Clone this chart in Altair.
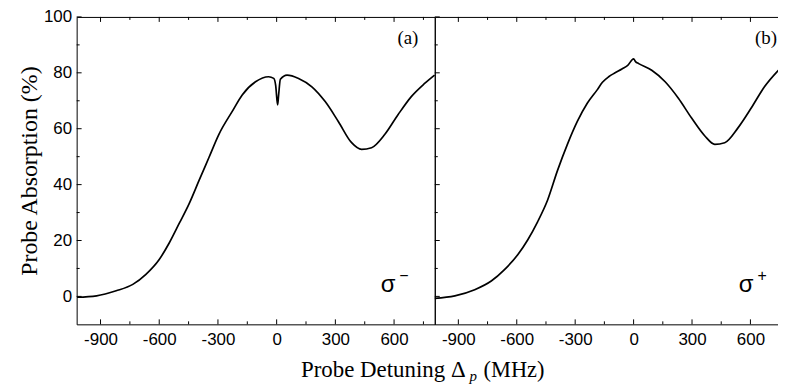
import altair as alt
import pandas as pd

# ---- data ----
xa = [-1020, -920, -820, -735, -668, -600, -549, -498, -447, -397, -346, -295,
      -227, -176, -108, -41, -15, -5, 5, 10, 19, 53, 112, 180, 248, 315, 383,
      434, 485, 553, 620, 688, 756, 807]
ya = [-0.3, 0.2, 2.0, 4.3, 7.9, 13.2, 19.1, 26.1, 33.2, 41.4, 49.7, 58.0,
      66.2, 72.1, 76.8, 78.6, 78.0, 75.5, 68.5, 72.0, 77.7, 79.2, 78.0, 75.0,
      69.7, 62.6, 55.0, 52.6, 53.2, 58.0, 65.0, 71.5, 76.2, 79.2]

xb = [-1021, -918, -816, -731, -663, -595, -544, -493, -442, -391, -340, -289,
      -238, -187, -160, -128, -95, -60, -30, 0, 10, 26, 93, 162, 230, 297,
      366, 417, 468, 536, 604, 672, 760]
yb = [-0.7, 0.2, 2.4, 5.5, 9.6, 14.9, 20.2, 26.7, 34.4, 45.0, 54.4, 62.6,
      69.1, 73.9, 76.6, 78.6, 80.0, 81.4, 82.7, 85.0, 84.0, 83.3, 80.9, 76.8,
      70.9, 63.9, 57.4, 54.4, 55.0, 60.3, 67.4, 75.0, 82.1]

x_major = [-900, -600, -300, 0, 300, 600]
x_minor = [-750, -450, -150, 150, 450, 750]
y_major = [0, 20, 40, 60, 80, 100]
y_minor = [10, 30, 50, 70, 90]

panel_labels = ["(a)", "(b)"]
pol_labels = ["σ", "σ"]
pol_signs = ["\u2212", "+"]
y_title = "Probe Absorption (%)"
x_title_parts = ["Probe Detuning \u0394", "p", "(MHz)"]

H = 309
SERIF = "Liberation Serif"
SANS = "Liberation Sans"
HYPHEN = "replace(datum.label, '\u2212', '-')"


def txt(s, x, y, font, size, align="left", baseline="alphabetic", style="normal"):
    return alt.Chart(pd.DataFrame({"t": [s]})).mark_text(
        font=font, fontSize=size, align=align, baseline=baseline,
        fontStyle=style, color="black"
    ).encode(x=alt.value(x), y=alt.value(y), text="t:N")


def panel(xs, ys, dom, width, idx, show_y):
    xscale = alt.Scale(domain=dom, nice=False, zero=False)
    yscale = alt.Scale(domain=[-10, 100], nice=False, zero=False)
    xaxis = alt.Axis(values=x_major, ticks=False, domain=False, grid=False,
                     labelFont=SANS, labelFontSize=17, labelPadding=7,
                     labelColor="black", labelFlush=False, title=None,
                     labelExpr=HYPHEN)
    if show_y:
        yaxis = alt.Axis(values=y_major, ticks=False, domain=False, grid=False,
                         labelFont=SANS, labelFontSize=17, labelPadding=5,
                         labelColor="black", title=y_title, titleFont=SERIF,
                         titleFontSize=24, titleFontWeight="normal",
                         titleColor="black", titlePadding=2)
    else:
        yaxis = None
    df = pd.DataFrame({"x": xs, "y": ys})
    line = alt.Chart(df).mark_line(
        color="black", strokeWidth=1.7, interpolate="monotone"
    ).encode(x=alt.X("x:Q", scale=xscale, axis=xaxis),
             y=alt.Y("y:Q", scale=yscale, axis=yaxis))

    layers = [line]
    for vals, ln in ((x_major, 5), (x_minor, 3)):
        d = pd.DataFrame({"v": vals})
        layers.append(alt.Chart(d).mark_rule(color="black", strokeWidth=1).encode(
            x=alt.X("v:Q", scale=xscale, axis=xaxis),
            y=alt.value(H), y2=alt.value(H - ln)))
        layers.append(alt.Chart(d).mark_rule(color="black", strokeWidth=1).encode(
            x=alt.X("v:Q", scale=xscale, axis=xaxis),
            y=alt.value(0), y2=alt.value(ln)))
    for vals, ln in ((y_major, 5), (y_minor, 3)):
        d = pd.DataFrame({"v": vals})
        layers.append(alt.Chart(d).mark_rule(color="black", strokeWidth=1).encode(
            y=alt.Y("v:Q", scale=yscale, axis=yaxis),
            x=alt.value(0), x2=alt.value(ln)))

    layers.append(txt(panel_labels[idx], 333, 21, SERIF, 19, "center", "middle"))
    layers.append(txt(pol_labels[idx], 313, 276, SANS, 24, "center"))
    layers.append(txt(pol_signs[idx], 329, 260, SANS, 16, "center", "middle"))
    if show_y:
        layers.append(txt(x_title_parts[0], 391, 362, SERIF, 23, "right"))
        layers.append(txt(x_title_parts[1], 395, 366, SERIF, 15, style="italic"))
        layers.append(txt(x_title_parts[2], 409, 362, SERIF, 22.5))
    return alt.layer(*layers).properties(width=width, height=H)


pa = panel(xa, ya, [-1022, 808], 360, 0, True)
pb = panel(xb, yb, [-1021, 762], 349, 1, False)

chart = alt.hconcat(pa, pb, spacing=0, bounds="flush").properties(
    padding={"left": 9, "top": -2, "right": -8, "bottom": 0}
).configure_view(stroke="black", strokeWidth=1)

chart.save("out.html", embed_options={"renderer": "svg", "actions": False})
